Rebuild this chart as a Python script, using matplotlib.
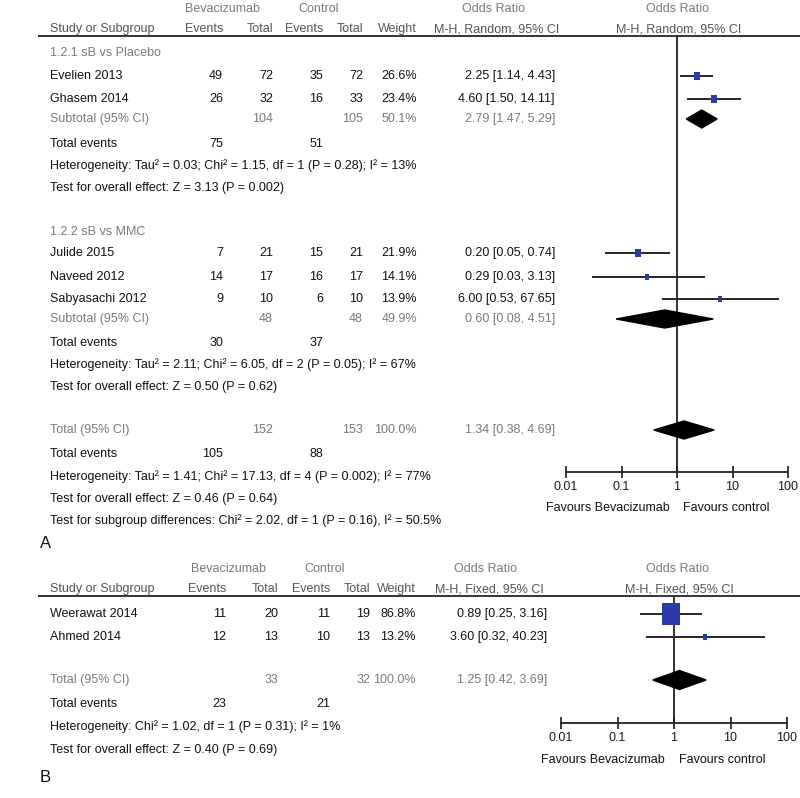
import matplotlib
matplotlib.use('Agg')
import matplotlib.pyplot as plt
from matplotlib.patches import Polygon
from matplotlib.ticker import FixedLocator, FixedFormatter, NullLocator

plt.rcParams['font.family'] = ['Liberation Sans Narrow', 'Liberation Sans', 'DejaVu Sans']

# ---- panel A data ----
a_study = ['Evelien 2013', 'Ghasem 2014', 'Julide 2015', 'Naveed 2012', 'Sabyasachi 2012']
a_bev_ev = [49, 26, 7, 14, 9]
a_bev_tot = [72, 32, 21, 17, 10]
a_ctl_ev = [35, 16, 15, 16, 6]
a_ctl_tot = [72, 33, 21, 17, 10]
a_weight = [26.6, 23.4, 21.9, 14.1, 13.9]
a_or = [2.25, 4.60, 0.20, 0.29, 6.00]
a_lo = [1.14, 1.50, 0.05, 0.03, 0.53]
a_hi = [4.43, 14.11, 0.74, 3.13, 67.65]

a_sub_name = ['1.2.1 sB vs Placebo', '1.2.2 sB vs MMC']
a_sub_bev_tot = [104, 48]
a_sub_ctl_tot = [105, 48]
a_sub_weight = [50.1, 49.9]
a_sub_or = [2.79, 0.60]
a_sub_lo = [1.47, 0.08]
a_sub_hi = [5.29, 4.51]
a_sub_bev_ev = [75, 30]
a_sub_ctl_ev = [51, 37]
a_sub_het = ['Heterogeneity: Tau\u00b2 = 0.03; Chi\u00b2 = 1.15, df = 1 (P = 0.28); I\u00b2 = 13%',
             'Heterogeneity: Tau\u00b2 = 2.11; Chi\u00b2 = 6.05, df = 2 (P = 0.05); I\u00b2 = 67%']
a_sub_test = ['Test for overall effect: Z = 3.13 (P = 0.002)',
              'Test for overall effect: Z = 0.50 (P = 0.62)']

a_tot = {'bev_tot': 152, 'ctl_tot': 153, 'weight': 100.0, 'or': 1.34, 'lo': 0.38, 'hi': 4.69,
         'bev_ev': 105, 'ctl_ev': 88}
a_tot_notes = ['Heterogeneity: Tau\u00b2 = 1.41; Chi\u00b2 = 17.13, df = 4 (P = 0.002); I\u00b2 = 77%',
               'Test for overall effect: Z = 0.46 (P = 0.64)',
               'Test for subgroup differences: Chi\u00b2 = 2.02, df = 1 (P = 0.16), I\u00b2 = 50.5%']

# ---- panel B data ----
b_study = ['Weerawat 2014', 'Ahmed 2014']
b_bev_ev = [11, 12]
b_bev_tot = [20, 13]
b_ctl_ev = [11, 10]
b_ctl_tot = [19, 13]
b_weight = [86.8, 13.2]
b_or = [0.89, 3.60]
b_lo = [0.25, 0.32]
b_hi = [3.16, 40.23]
b_tot = {'bev_tot': 33, 'ctl_tot': 32, 'weight': 100.0, 'or': 1.25, 'lo': 0.42, 'hi': 3.69,
         'bev_ev': 23, 'ctl_ev': 21}
b_tot_notes = ['Heterogeneity: Chi\u00b2 = 1.02, df = 1 (P = 0.31); I\u00b2 = 1%',
               'Test for overall effect: Z = 0.40 (P = 0.69)']

tick_vals = [0.01, 0.1, 1, 10, 100]
tick_labels = ['0.01', '0.1', '1', '10', '100']

BLACK = '#111111'
GREY = '#7a7a7a'
HGREY = '#555555'
BLUE = '#2b3aa8'
FS = 9.0

fig = plt.figure(figsize=(8, 7.98), dpi=100)
bg = fig.add_axes([0, 0, 1, 1])
bg.set_xlim(0, 800)
bg.set_ylim(798, 0)
bg.axis('off')


def txt(x, y, s, ha='left', c=BLACK, fs=FS):
    bg.text(x, y, s, ha=ha, va='center', color=c, fontsize=fs)


def fmt_ci(o, l, h):
    return '%.2f [%.2f, %.2f]' % (o, l, h)


def header(y0, cols, method, bev_c, ctl_c):
    # cols: bev_ev, bev_tot, ctl_ev, ctl_tot, weight, ortext
    txt(bev_c, y0, 'Bevacizumab', ha='center', c=GREY)
    txt(ctl_c, y0, 'Control', ha='center', c=GREY)
    txt(cols[5] - 62, y0, 'Odds Ratio', ha='center', c=GREY)
    txt(677, y0, 'Odds Ratio', ha='center', c=GREY)
    y1 = y0 + 20
    txt(50, y1, 'Study or Subgroup', c=HGREY)
    txt(cols[0], y1, 'Events', ha='right', c=HGREY)
    txt(cols[1], y1, 'Total', ha='right', c=HGREY)
    txt(cols[2], y1, 'Events', ha='right', c=HGREY)
    txt(cols[3], y1, 'Total', ha='right', c=HGREY)
    txt(cols[4], y1, 'Weight', ha='right', c=HGREY)
    txt(cols[5] - 58, y1, 'M-H, %s, 95%% CI' % method, ha='center', c=HGREY)
    txt(679, y1, 'M-H, %s, 95%% CI' % method, ha='center', c=HGREY)
    bg.plot([39, 800], [y1 + 7, y1 + 7], color='#333333', lw=1.4)


def data_row(y, cols, name, be, bt, ce, ct, w, o, l, h, c=BLACK):
    txt(50, y, name, c=c)
    if be is not None:
        txt(cols[0], y, str(be), ha='right', c=c)
    txt(cols[1], y, str(bt), ha='right', c=c)
    if ce is not None:
        txt(cols[2], y, str(ce), ha='right', c=c)
    txt(cols[3], y, str(ct), ha='right', c=c)
    txt(cols[4], y, '%.1f%%' % w, ha='right', c=c)
    txt(cols[5], y, fmt_ci(o, l, h), ha='right', c=c)


def forest_axes(x0, x1, ytop, ybot):
    ax = fig.add_axes([x0 / 800, 1 - ybot / 798, (x1 - x0) / 800, (ybot - ytop) / 798])
    ax.set_xscale('log')
    ax.set_xlim(0.01, 100)
    ax.set_ylim(ybot, ytop)
    ax.patch.set_alpha(0)
    for s in ['left', 'right', 'top']:
        ax.spines[s].set_visible(False)
    ax.spines['bottom'].set_linewidth(1.3)
    ax.spines['bottom'].set_color('#222222')
    ax.yaxis.set_major_locator(NullLocator())
    ax.xaxis.set_major_locator(FixedLocator(tick_vals))
    ax.xaxis.set_major_formatter(FixedFormatter(tick_labels))
    ax.xaxis.set_minor_locator(NullLocator())
    ax.tick_params(axis='x', direction='inout', length=9, width=1.2, pad=2,
                   labelsize=FS, colors='#1a1a1a')
    ax.axvline(1, color='#222222', lw=1.3, zorder=1)
    return ax


rect = [(-0.8, -1), (0.8, -1), (0.8, 1), (-0.8, 1), (-0.8, -1)]


def study_mark(ax, y, o, l, h, w):
    ax.plot([l, h], [y, y], color='#262626', lw=1.4, zorder=2, solid_capstyle='butt')
    ms = (2.5 + 0.2 * w) * 0.72 * 1.1
    ax.plot([o], [y], marker=rect, ms=ms, color=BLUE, mec=BLUE, mew=0, zorder=3)


def diamond(ax, y, o, l, h, hh=9):
    ax.add_patch(Polygon([(l, y), (o, y - hh), (h, y), (o, y + hh)], closed=True,
                         facecolor='black', edgecolor='black', zorder=3))


# ================= Panel A =================
colsA = [223, 273, 323, 363, 417, 555]
header(9, colsA, 'Random', 223, 319)
axA = forest_axes(566, 788, 36, 472)

y_sub_head = [53, 232]
y_studies = [76, 99, 253, 277, 299]
y_subtot = [119, 319]
y_sub_ev = [144, 343]
y_sub_het = [166, 365]
y_sub_test = [188, 387]

for g in range(2):
    txt(50, y_sub_head[g], a_sub_name[g], c=GREY)
for i in range(len(a_study)):
    data_row(y_studies[i], colsA, a_study[i], a_bev_ev[i], a_bev_tot[i], a_ctl_ev[i],
             a_ctl_tot[i], a_weight[i], a_or[i], a_lo[i], a_hi[i])
    study_mark(axA, y_studies[i], a_or[i], a_lo[i], a_hi[i], a_weight[i])
for g in range(2):
    data_row(y_subtot[g], colsA, 'Subtotal (95% CI)', None, a_sub_bev_tot[g], None,
             a_sub_ctl_tot[g], a_sub_weight[g], a_sub_or[g], a_sub_lo[g], a_sub_hi[g], c=GREY)
    diamond(axA, y_subtot[g], a_sub_or[g], a_sub_lo[g], a_sub_hi[g])
    txt(50, y_sub_ev[g], 'Total events')
    txt(colsA[0], y_sub_ev[g], str(a_sub_bev_ev[g]), ha='right')
    txt(colsA[2], y_sub_ev[g], str(a_sub_ctl_ev[g]), ha='right')
    txt(50, y_sub_het[g], a_sub_het[g])
    txt(50, y_sub_test[g], a_sub_test[g])

data_row(430, colsA, 'Total (95% CI)', None, a_tot['bev_tot'], None, a_tot['ctl_tot'],
         a_tot['weight'], a_tot['or'], a_tot['lo'], a_tot['hi'], c=GREY)
diamond(axA, 430, a_tot['or'], a_tot['lo'], a_tot['hi'])
txt(50, 454, 'Total events')
txt(colsA[0], 454, str(a_tot['bev_ev']), ha='right')
txt(colsA[2], 454, str(a_tot['ctl_ev']), ha='right')
for k, yy in enumerate([477, 499, 521]):
    txt(50, yy, a_tot_notes[k])
txt(670, 508, 'Favours Bevacizumab', ha='right')
txt(683, 508, 'Favours control')
txt(40, 543, 'A', fs=12)

# ================= Panel B =================
colsB = [226, 278, 330, 370, 416, 547]
header(569, colsB, 'Fixed', 228, 325)
axB = forest_axes(561, 787, 597, 723)
y_b = [614, 637]
for i in range(len(b_study)):
    data_row(y_b[i], colsB, b_study[i], b_bev_ev[i], b_bev_tot[i], b_ctl_ev[i],
             b_ctl_tot[i], b_weight[i], b_or[i], b_lo[i], b_hi[i])
    study_mark(axB, y_b[i], b_or[i], b_lo[i], b_hi[i], b_weight[i])
data_row(680, colsB, 'Total (95% CI)', None, b_tot['bev_tot'], None, b_tot['ctl_tot'],
         b_tot['weight'], b_tot['or'], b_tot['lo'], b_tot['hi'], c=GREY)
diamond(axB, 680, b_tot['or'], b_tot['lo'], b_tot['hi'], hh=9.5)
txt(50, 704, 'Total events')
txt(colsB[0], 704, str(b_tot['bev_ev']), ha='right')
txt(colsB[2], 704, str(b_tot['ctl_ev']), ha='right')
txt(50, 727, b_tot_notes[0])
txt(50, 750, b_tot_notes[1])
txt(665, 760, 'Favours Bevacizumab', ha='right')
txt(679, 760, 'Favours control')
txt(40, 777, 'B', fs=12)

fig.savefig('out.png', dpi=100)
